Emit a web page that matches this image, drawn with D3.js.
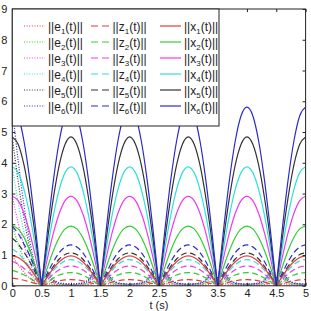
<!DOCTYPE html>
<html>
<head>
<meta charset="utf-8">
<script src="https://cdn.jsdelivr.net/npm/d3@7"></script>
<style>
  body { margin: 0; background: #fff; }
  text { font-family: "Liberation Sans", Arial, sans-serif; fill: #222; }
</style>
</head>
<body>
<svg id="chart"></svg>
<script>
// time samples (s)
const time = [0,0.1,0.2,0.3,0.4,0.5,0.6,0.7,0.8,0.9,
  1,1.1,1.2,1.3,1.4,1.5,1.6,1.7,1.8,1.9,
  2,2.1,2.2,2.3,2.4,2.5,2.6,2.7,2.8,2.9,
  3,3.1,3.2,3.3,3.4,3.5,3.6,3.7,3.8,3.9,
  4,4.1,4.2,4.3,4.4,4.5,4.6,4.7,4.8,4.9,5];

// times where every curve touches zero (kinks)
const kinks = [0.5, 1.5, 2.5, 3.5, 4.5];

// ||e_i(t)||
const e1 = [0.97,0.68,0.44,0.24,0.10,0.03,
  0.08,0.03,0.02,0.01,0.01,0.01,0.02,0.03,0.08,0.04,
  0.08,0.03,0.02,0.01,0.01,0.01,0.02,0.03,0.08,0.04,
  0.08,0.03,0.02,0.01,0.01,0.01,0.02,0.03,0.08,0.04,
  0.08,0.03,0.02,0.01,0.01,0.01,0.02,0.03,0.08,0.04,
  0.08,0.03,0.02,0.01,0.01];
const e2 = [1.94,1.36,0.87,0.49,0.19,0.06,
  0.15,0.07,0.03,0.02,0.02,0.02,0.03,0.07,0.15,0.08,
  0.15,0.07,0.03,0.02,0.02,0.02,0.03,0.07,0.15,0.08,
  0.15,0.07,0.03,0.02,0.02,0.02,0.03,0.07,0.15,0.08,
  0.15,0.07,0.03,0.02,0.02,0.02,0.03,0.07,0.15,0.08,
  0.15,0.07,0.03,0.02,0.02];
const e3 = [2.91,2.04,1.31,0.73,0.29,0.09,
  0.23,0.10,0.05,0.04,0.03,0.04,0.05,0.10,0.23,0.13,
  0.23,0.10,0.05,0.04,0.03,0.04,0.05,0.10,0.23,0.13,
  0.23,0.10,0.05,0.04,0.03,0.04,0.05,0.10,0.23,0.13,
  0.23,0.10,0.05,0.04,0.03,0.04,0.05,0.10,0.23,0.13,
  0.23,0.10,0.05,0.04,0.03];
const e4 = [3.87,2.71,1.74,0.97,0.39,0.12,
  0.30,0.13,0.07,0.05,0.04,0.05,0.07,0.13,0.30,0.17,
  0.30,0.13,0.07,0.05,0.04,0.05,0.07,0.13,0.30,0.17,
  0.30,0.13,0.07,0.05,0.04,0.05,0.07,0.13,0.30,0.17,
  0.30,0.13,0.07,0.05,0.04,0.05,0.07,0.13,0.30,0.17,
  0.30,0.13,0.07,0.05,0.04];
const e5 = [4.84,3.39,2.18,1.21,0.48,0.15,
  0.38,0.17,0.08,0.06,0.05,0.06,0.08,0.17,0.38,0.21,
  0.38,0.17,0.08,0.06,0.05,0.06,0.08,0.17,0.38,0.21,
  0.38,0.17,0.08,0.06,0.05,0.06,0.08,0.17,0.38,0.21,
  0.38,0.17,0.08,0.06,0.05,0.06,0.08,0.17,0.38,0.21,
  0.38,0.17,0.08,0.06,0.05];
const e6 = [5.81,4.07,2.61,1.45,0.58,0.17,
  0.45,0.20,0.10,0.07,0.06,0.07,0.10,0.20,0.45,0.25,
  0.45,0.20,0.10,0.07,0.06,0.07,0.10,0.20,0.45,0.25,
  0.45,0.20,0.10,0.07,0.06,0.07,0.10,0.20,0.45,0.25,
  0.45,0.20,0.10,0.07,0.06,0.07,0.10,0.20,0.45,0.25,
  0.45,0.20,0.10,0.07,0.06];

// ||z_i(t)||
const z1 = [0.25,0.22,0.18,0.13,0.07,0,
  0.06,0.12,0.16,0.19,0.20,0.19,0.16,0.12,0.06,0,
  0.06,0.12,0.16,0.19,0.20,0.19,0.16,0.12,0.06,0,
  0.06,0.12,0.16,0.19,0.20,0.19,0.16,0.12,0.06,0,
  0.06,0.12,0.16,0.19,0.20,0.19,0.16,0.12,0.06,0,
  0.06,0.12,0.16,0.19,0.20];
const z2 = [0.50,0.44,0.35,0.25,0.13,0,
  0.13,0.25,0.35,0.41,0.43,0.41,0.35,0.25,0.13,0,
  0.13,0.25,0.35,0.41,0.43,0.41,0.35,0.25,0.13,0,
  0.13,0.25,0.35,0.41,0.43,0.41,0.35,0.25,0.13,0,
  0.13,0.25,0.35,0.41,0.43,0.41,0.35,0.25,0.13,0,
  0.13,0.25,0.35,0.41,0.43];
const z3 = [0.80,0.70,0.56,0.40,0.21,0,
  0.20,0.38,0.52,0.61,0.64,0.61,0.52,0.38,0.20,0,
  0.20,0.38,0.52,0.61,0.64,0.61,0.52,0.38,0.20,0,
  0.20,0.38,0.52,0.61,0.64,0.61,0.52,0.38,0.20,0,
  0.20,0.38,0.52,0.61,0.64,0.61,0.52,0.38,0.20,0,
  0.20,0.38,0.52,0.61,0.64];
const z4 = [1.20,1.06,0.84,0.60,0.31,0,
  0.26,0.50,0.69,0.81,0.85,0.81,0.69,0.50,0.26,0,
  0.26,0.50,0.69,0.81,0.85,0.81,0.69,0.50,0.26,0,
  0.26,0.50,0.69,0.81,0.85,0.81,0.69,0.50,0.26,0,
  0.26,0.50,0.69,0.81,0.85,0.81,0.69,0.50,0.26,0,
  0.26,0.50,0.69,0.81,0.85];
const z5 = [1.55,1.36,1.09,0.78,0.40,0,
  0.33,0.63,0.87,1.02,1.07,1.02,0.87,0.63,0.33,0,
  0.33,0.63,0.87,1.02,1.07,1.02,0.87,0.63,0.33,0,
  0.33,0.63,0.87,1.02,1.07,1.02,0.87,0.63,0.33,0,
  0.33,0.63,0.87,1.02,1.07,1.02,0.87,0.63,0.33,0,
  0.33,0.63,0.87,1.02,1.07];
const z6 = [1.93,1.70,1.35,0.97,0.50,0,
  0.41,0.78,1.08,1.26,1.33,1.26,1.08,0.78,0.41,0,
  0.41,0.78,1.08,1.26,1.33,1.26,1.08,0.78,0.41,0,
  0.41,0.78,1.08,1.26,1.33,1.26,1.08,0.78,0.41,0,
  0.41,0.78,1.08,1.26,1.33,1.26,1.08,0.78,0.41,0,
  0.41,0.78,1.08,1.26,1.33];

// ||x_i(t)||
const x1 = [0.97,0.92,0.78,0.57,0.30,0,
  0.30,0.57,0.78,0.92,0.97,0.92,0.78,0.57,0.30,0,
  0.30,0.57,0.78,0.92,0.97,0.92,0.78,0.57,0.30,0,
  0.30,0.57,0.78,0.92,0.97,0.92,0.78,0.57,0.30,0,
  0.30,0.57,0.78,0.92,0.97,0.92,0.78,0.57,0.30,0,
  0.30,0.57,0.78,0.92,0.97];
const x2 = [1.94,1.85,1.57,1.14,0.60,0,
  0.60,1.14,1.57,1.85,1.94,1.85,1.57,1.14,0.60,0,
  0.60,1.14,1.57,1.85,1.94,1.85,1.57,1.14,0.60,0,
  0.60,1.14,1.57,1.85,1.94,1.85,1.57,1.14,0.60,0,
  0.60,1.14,1.57,1.85,1.94,1.85,1.57,1.14,0.60,0,
  0.60,1.14,1.57,1.85,1.94];
const x3 = [2.91,2.77,2.35,1.71,0.90,0,
  0.90,1.71,2.35,2.77,2.91,2.77,2.35,1.71,0.90,0,
  0.90,1.71,2.35,2.77,2.91,2.77,2.35,1.71,0.90,0,
  0.90,1.71,2.35,2.77,2.91,2.77,2.35,1.71,0.90,0,
  0.90,1.71,2.35,2.77,2.91,2.77,2.35,1.71,0.90,0,
  0.90,1.71,2.35,2.77,2.91];
const x4 = [3.87,3.68,3.13,2.28,1.20,0,
  1.20,2.28,3.13,3.68,3.87,3.68,3.13,2.28,1.20,0,
  1.20,2.28,3.13,3.68,3.87,3.68,3.13,2.28,1.20,0,
  1.20,2.28,3.13,3.68,3.87,3.68,3.13,2.28,1.20,0,
  1.20,2.28,3.13,3.68,3.87,3.68,3.13,2.28,1.20,0,
  1.20,2.28,3.13,3.68,3.87];
const x5 = [4.84,4.60,3.92,2.85,1.50,0,
  1.50,2.85,3.92,4.60,4.84,4.60,3.92,2.85,1.50,0,
  1.50,2.85,3.92,4.60,4.84,4.60,3.92,2.85,1.50,0,
  1.50,2.85,3.92,4.60,4.84,4.60,3.92,2.85,1.50,0,
  1.50,2.85,3.92,4.60,4.84,4.60,3.92,2.85,1.50,0,
  1.50,2.85,3.92,4.60,4.84];
const x6 = [5.81,5.53,4.70,3.42,1.80,0,
  1.80,3.42,4.70,5.53,5.81,5.53,4.70,3.42,1.80,0,
  1.80,3.42,4.70,5.53,5.81,5.53,4.70,3.42,1.80,0,
  1.80,3.42,4.70,5.53,5.81,5.53,4.70,3.42,1.80,0,
  1.80,3.42,4.70,5.53,5.81,5.53,4.70,3.42,1.80,0,
  1.80,3.42,4.70,5.53,5.81];

const xTicks = [0, 0.5, 1, 1.5, 2, 2.5, 3, 3.5, 4, 4.5, 5];
const xTickLabels = ["0", "0.5", "1", "1.5", "2", "2.5", "3", "3.5", "4", "4.5", "5"];
const yTicks = [0, 1, 2, 3, 4, 5, 6, 7, 8, 9];
const groups = ["e", "z", "x"];
const indices = ["1", "2", "3", "4", "5", "6"];

const colors = ["#e23b3b", "#2fcf2f", "#ee38ee", "#2fdede", "#333333", "#2b2bcc"];
const dashes = {e: "1,1.6", z: "6,3.5", x: null};

class normplot {

  constructor(_config, _data) {
    this.config = {
      parentElement: _config.parentElement,
      containerWidth: _config.containerWidth || 311,
      containerHeight: _config.containerHeight || 311,
      margin: {top: 9, right: 5.4, bottom: 25.2, left: 12.3}
    }
    this.data = _data;
    this.initVis();
  }

  initVis() {
    let vis = this;

    vis.width = vis.config.containerWidth - vis.config.margin.left - vis.config.margin.right;
    vis.height = vis.config.containerHeight - vis.config.margin.top - vis.config.margin.bottom;

    vis.svg = d3.select(vis.config.parentElement)
      .attr('width', vis.config.containerWidth)
      .attr('height', vis.config.containerHeight);

    vis.chart = vis.svg.append('g')
      .attr('transform', `translate(${vis.config.margin.left}, ${vis.config.margin.top})`);

    vis.xScale = d3.scaleLinear().domain([0, 5]).range([0, vis.width]);
    vis.yScale = d3.scaleLinear().domain([0, 9]).range([vis.height, 0]);

    vis.chart.append('clipPath').attr('id', 'plotclip')
      .append('rect').attr('width', vis.width).attr('height', vis.height);

    // split each series at the kinks so the V bottoms stay sharp
    let segments = series => {
      let out = [], cur = [];
      series.values.forEach((v, i) => {
        cur.push({t: time[i], v: v});
        if (kinks.includes(time[i])) { out.push(cur); cur = [{t: time[i], v: v}]; }
      });
      if (cur.length > 1) out.push(cur);
      return out;
    };

    vis.line = d3.line()
      .x(d => vis.xScale(d.t))
      .y(d => vis.yScale(d.v))
      .curve(d3.curveMonotoneX);

    let lines = vis.chart.append('g').attr('clip-path', 'url(#plotclip)');
    vis.data.forEach(s => {
      lines.selectAll(null)
        .data(segments(s))
        .enter()
        .append('path')
          .attr('d', vis.line)
          .attr('fill', 'none')
          .attr('stroke', s.color)
          .attr('stroke-width', 1.2)
          .attr('stroke-dasharray', dashes[s.group]);
    });

    // axes, ticks pointing inward, box on
    vis.xAxis = d3.axisBottom(vis.xScale).tickValues(xTicks)
      .tickFormat((d, i) => xTickLabels[i]).tickSizeInner(-3).tickSizeOuter(0).tickPadding(3);
    vis.yAxis = d3.axisLeft(vis.yScale).tickValues(yTicks)
      .tickFormat(d => d).tickSizeInner(-3).tickSizeOuter(0).tickPadding(5);

    vis.chart.append('g').attr('class', 'axis')
      .attr('transform', `translate(0,${vis.height})`).call(vis.xAxis);
    vis.chart.append('g').attr('class', 'axis').call(vis.yAxis);
    vis.chart.append('g').attr('class', 'axis')
      .call(d3.axisTop(vis.xScale).tickValues(xTicks).tickFormat('').tickSizeInner(-3).tickSizeOuter(0));
    vis.chart.append('g').attr('class', 'axis')
      .attr('transform', `translate(${vis.width},0)`)
      .call(d3.axisRight(vis.yScale).tickValues(yTicks).tickFormat('').tickSizeInner(-3).tickSizeOuter(0));

    vis.chart.selectAll('.axis text')
      .attr('font-size', 11).attr('fill', '#222').attr('font-family', '"Liberation Sans", Arial, sans-serif');
    vis.chart.selectAll('.axis line').attr('stroke', '#222');
    vis.chart.selectAll('.axis .domain').remove();

    vis.chart.append('rect')
      .attr('width', vis.width).attr('height', vis.height)
      .attr('fill', 'none').attr('stroke', '#222').attr('stroke-width', 1);

    vis.chart.append('text')
      .attr('x', vis.width / 2).attr('y', vis.height + 23)
      .attr('text-anchor', 'middle').attr('font-size', 11)
      .text('t (s)');

    // legend box over the upper left corner
    let legend = vis.chart.append('g');
    legend.append('rect')
      .attr('x', 0).attr('y', 0).attr('width', 206.7).attr('height', 117)
      .attr('fill', '#fff').attr('stroke', '#222').attr('stroke-width', 1);

    let colX = {e: 11.7, z: 78.7, x: 147.7};
    let lineLen = {e: 21, z: 18.5, x: 21};
    vis.data.forEach(s => {
      let cy = 17 + 16 * (+s.index - 1);
      let x0 = colX[s.group];
      legend.append('line')
        .attr('x1', x0).attr('x2', x0 + lineLen[s.group])
        .attr('y1', cy).attr('y2', cy)
        .attr('stroke', s.color).attr('stroke-width', 1.2)
        .attr('stroke-dasharray', s.group === 'z' ? '7,4' : dashes[s.group]);
      let txt = legend.append('text')
        .attr('x', x0 + lineLen[s.group] + 3).attr('y', cy + 4.5)
        .attr('font-size', 12);
      txt.append('tspan').text('||' + s.group);
      txt.append('tspan').attr('font-size', 8).attr('dy', 3.5).text(s.index);
      txt.append('tspan').attr('dy', -3.5).text('(t)||');
    });
  }
}

const allSeries = {e: [e1, e2, e3, e4, e5, e6], z: [z1, z2, z3, z4, z5, z6], x: [x1, x2, x3, x4, x5, x6]};
let plotData = [];
groups.forEach(g => indices.forEach((idx, i) => {
  plotData.push({group: g, index: idx, color: colors[i], values: allSeries[g][i]});
}));

new normplot({parentElement: '#chart'}, plotData);
</script>
</body>
</html>
